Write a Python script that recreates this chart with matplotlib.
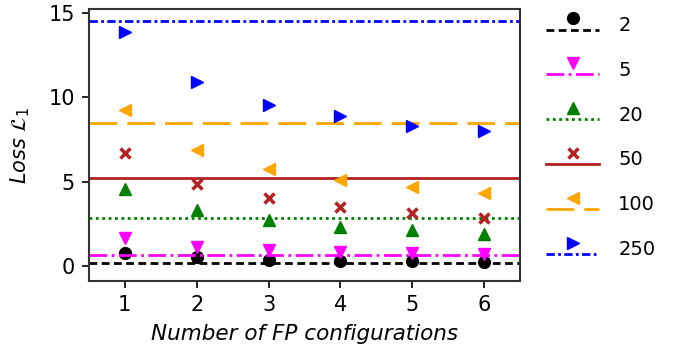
import numpy as np
import matplotlib.pyplot as plt
from matplotlib.lines import Line2D
from matplotlib.legend_handler import HandlerLine2DCompound

configs = [1, 2, 3, 4, 5, 6]
labels = ['2', '5', '20', '50', '100', '250']

# loss per number of FP configurations, one list per legend entry
loss_2 = [0.81, 0.55, 0.37, 0.30, 0.30, 0.25]
loss_5 = [1.70, 1.16, 0.96, 0.87, 0.81, 0.73]
loss_20 = [4.59, 3.33, 2.72, 2.34, 2.13, 1.93]
loss_50 = [6.72, 4.90, 4.02, 3.53, 3.15, 2.84]
loss_100 = [9.27, 6.87, 5.79, 5.14, 4.71, 4.35]
loss_250 = [13.86, 10.89, 9.57, 8.88, 8.33, 7.99]
# horizontal reference levels
ref_levels = [0.2, 0.7, 2.85, 5.25, 8.5, 14.5]

series = [loss_2, loss_5, loss_20, loss_50, loss_100, loss_250]
colors = ['black', 'magenta', 'green', 'firebrick', 'orange', 'blue']
markers = ['o', 'v', '^', 'x', '<', '>']
dashes = [(2.8, 1.6), (6.4, 1.6, 1, 1.6), (1, 1.3), None, (10, 3.6), (3, 1.2, 1, 1.2)]


class OffsetHandler(HandlerLine2DCompound):
    # marker drawn above the line in the legend
    def create_artists(self, legend, orig_handle, xdescent, ydescent,
                       width, height, fontsize, trans):
        arts = super().create_artists(legend, orig_handle, xdescent, ydescent,
                                      width, height, fontsize, trans)
        line, marker = arts
        line.set_ydata(np.asarray(line.get_ydata()) - 0.28 * fontsize)
        marker.set_ydata(np.asarray(marker.get_ydata()) + 0.3 * fontsize)
        return [line, marker]


plt.rcParams['font.family'] = 'DejaVu Sans'
fig = plt.figure(figsize=(6.73, 3.56), dpi=100)
ax = fig.add_axes([0.132, 0.211, 0.641, 0.763])

handles = []
for vals, ref, c, m, d, lab in zip(series, ref_levels, colors, markers, dashes, labels):
    ms = 7 if m == 'x' else 8.5
    ax.plot(configs, vals, linestyle='none', marker=m, color=c, markersize=ms,
            markeredgewidth=2.5 if m == 'x' else 1)
    ln = ax.axhline(ref, color=c, linewidth=2)
    if d is not None:
        ln.set_dashes(d)
    h = Line2D([], [], color=c, linewidth=2, marker=m, markersize=ms,
               markeredgewidth=2.5 if m == 'x' else 1)
    if d is not None:
        h.set_dashes(d)
    handles.append(h)

ax.set_xlim(0.5, 6.5)
ax.set_ylim(-0.85, 15.2)
ax.set_xticks(configs)
ax.set_yticks([0, 5, 10, 15])
ax.tick_params(labelsize=15, length=5, width=1.2, pad=5)
for s in ax.spines.values():
    s.set_linewidth(1.5)
    s.set_color('#333333')
ax.set_xlabel('Number of FP configurations', fontsize=15.5, style='italic', labelpad=7)
ax.set_ylabel(r'$Loss\ \mathcal{L}_1$', fontsize=15, labelpad=12)

ax.legend(handles, labels, loc='upper left', bbox_to_anchor=(1.02, 1.04),
          frameon=False, fontsize=14, handlelength=2.7, labelspacing=1.33,
          handletextpad=1.0, numpoints=1,
          handler_map={Line2D: OffsetHandler(numpoints=1)})

fig.savefig('out.png', dpi=100)
